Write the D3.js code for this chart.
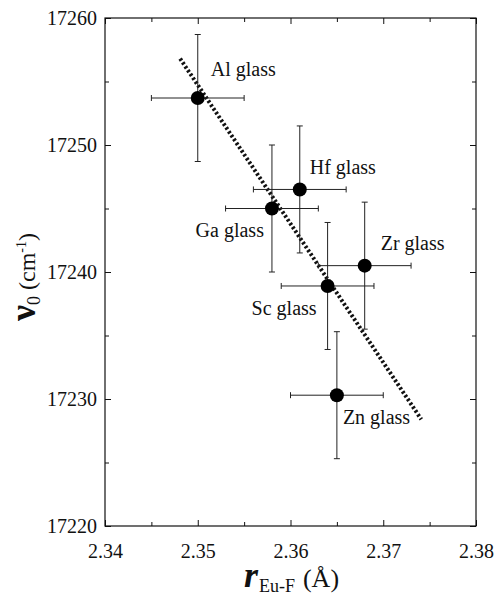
<!DOCTYPE html>
<html>
<head>
<meta charset="utf-8">
<script src="https://cdn.jsdelivr.net/npm/d3@7/dist/d3.min.js"></script>
<style>
  body { margin: 0; background: #fff; }
</style>
</head>
<body>
<div id="chart"></div>
<script>
(function() {
    "use strict";

    // values
    var glasses = ["Al glass", "Hf glass", "Ga glass", "Zr glass", "Sc glass", "Zn glass"];
    var rEuF    = [2.350, 2.361, 2.358, 2.368, 2.364, 2.365];
    var nu0     = [17253.7, 17246.5, 17245.0, 17240.5, 17238.9, 17230.3];
    var rErr    = [0.005, 0.005, 0.005, 0.005, 0.005, 0.005];
    var nuErr   = [5, 5, 5, 5, 5, 5];
    var fitX    = [2.3481, 2.3741];
    var fitY    = [17256.8, 17228.4];
    var xTicks  = [2.34, 2.35, 2.36, 2.37, 2.38];
    var yTicks  = [17220, 17230, 17240, 17250, 17260];

    // label placement relative to its point: [dx, dy, anchor]
    var labelPos = [[13, -22, "start"], [10, -15, "start"], [-8, 28, "end"],
                    [16, -16, "start"], [-11, 29, "end"], [6, 29, "start"]];

    var SERIF = "'Liberation Serif', 'Times New Roman', serif";
    var W = 496, H = 597;
    var m = { left: 105, top: 18, right: 20, bottom: 71 };
    var w = W - m.left - m.right, h = H - m.top - m.bottom;

    var svg = d3.select("#chart").append("svg")
        .attr("width", W).attr("height", H)
        .style("font-family", SERIF);
    var g = svg.append("g").attr("transform", "translate(" + m.left + "," + m.top + ")");

    var x = d3.scaleLinear().domain([2.34, 2.38]).range([0, w]);
    var y = d3.scaleLinear().domain([17220, 17260]).range([h, 0]);

    var xMinor = d3.range(2.345, 2.38, 0.01);
    var yMinor = d3.range(17225, 17260, 10);

    function styleAxis(sel) {
        sel.attr("font-family", null);
        sel.select(".domain").remove();
        sel.selectAll("line").attr("stroke", "#111").attr("stroke-width", 1);
        sel.selectAll("text").attr("fill", "#111")
            .style("font-family", SERIF).style("font-size", "20px");
    }

    // major ticks, pointing inward on all sides
    g.append("g").attr("transform", "translate(0," + h + ")")
        .call(d3.axisBottom(x).tickValues(xTicks).tickSize(-6).tickPadding(18)
            .tickFormat(d3.format(".2f")))
        .call(styleAxis);
    g.append("g")
        .call(d3.axisLeft(y).tickValues(yTicks).tickSize(-6).tickPadding(8)
            .tickFormat(d3.format("d")))
        .call(styleAxis);
    g.append("g")
        .call(d3.axisTop(x).tickValues(xTicks).tickSize(-6).tickFormat(""))
        .call(styleAxis);
    g.append("g").attr("transform", "translate(" + w + ",0)")
        .call(d3.axisRight(y).tickValues(yTicks).tickSize(-6).tickFormat(""))
        .call(styleAxis);

    // minor ticks
    g.append("g").attr("transform", "translate(0," + h + ")")
        .call(d3.axisBottom(x).tickValues(xMinor).tickSize(-4).tickFormat(""))
        .call(styleAxis);
    g.append("g")
        .call(d3.axisTop(x).tickValues(xMinor).tickSize(-4).tickFormat(""))
        .call(styleAxis);
    g.append("g")
        .call(d3.axisLeft(y).tickValues(yMinor).tickSize(-4).tickFormat(""))
        .call(styleAxis);
    g.append("g").attr("transform", "translate(" + w + ",0)")
        .call(d3.axisRight(y).tickValues(yMinor).tickSize(-4).tickFormat(""))
        .call(styleAxis);

    // frame
    g.append("rect").attr("width", w).attr("height", h)
        .attr("fill", "none").attr("stroke", "#111").attr("stroke-width", 1.2);

    // fitted dotted line
    var line = d3.line().x(function(d) { return x(d[0]); }).y(function(d) { return y(d[1]); });
    g.append("path")
        .datum(d3.zip(fitX, fitY))
        .attr("d", line)
        .attr("fill", "none")
        .attr("stroke", "#111")
        .attr("stroke-width", 4)
        .attr("stroke-dasharray", "2.4,2.2");

    var pts = glasses.map(function(name, i) {
        return { name: name, r: rEuF[i], v: nu0[i], er: rErr[i], ev: nuErr[i], lp: labelPos[i] };
    });

    var cap = 3;
    var eb = g.append("g").attr("stroke", "#222").attr("stroke-width", 1);
    pts.forEach(function(d) {
        var cx = x(d.r), cy = y(d.v);
        var y0 = y(d.v - d.ev), y1 = y(d.v + d.ev);
        var x0 = x(d.r - d.er), x1 = x(d.r + d.er);
        eb.append("line").attr("x1", cx).attr("x2", cx).attr("y1", y0).attr("y2", y1);
        eb.append("line").attr("x1", cx - cap).attr("x2", cx + cap).attr("y1", y0).attr("y2", y0);
        eb.append("line").attr("x1", cx - cap).attr("x2", cx + cap).attr("y1", y1).attr("y2", y1);
        eb.append("line").attr("x1", x0).attr("x2", x1).attr("y1", cy).attr("y2", cy);
        eb.append("line").attr("x1", x0).attr("x2", x0).attr("y1", cy - cap).attr("y2", cy + cap);
        eb.append("line").attr("x1", x1).attr("x2", x1).attr("y1", cy - cap).attr("y2", cy + cap);
    });

    g.selectAll("circle.pt").data(pts).enter().append("circle")
        .attr("class", "pt")
        .attr("cx", function(d) { return x(d.r); })
        .attr("cy", function(d) { return y(d.v); })
        .attr("r", 7)
        .attr("fill", "#000");

    g.selectAll("text.lbl").data(pts).enter().append("text")
        .attr("class", "lbl")
        .attr("x", function(d) { return x(d.r) + d.lp[0]; })
        .attr("y", function(d) { return y(d.v) + d.lp[1]; })
        .attr("text-anchor", function(d) { return d.lp[2]; })
        .attr("fill", "#111")
        .style("font-size", "20px")
        .text(function(d) { return d.name; });

    // x axis title: r_Eu-F (Å)
    var xt = svg.append("text")
        .attr("x", m.left + w / 2 + 1).attr("y", 587)
        .attr("text-anchor", "middle").attr("fill", "#111");
    xt.append("tspan").style("font-size", "36px").style("font-style", "italic")
        .style("font-weight", "bold").text("r");
    xt.append("tspan").style("font-size", "18px").attr("dy", 5).attr("dx", 1).text("Eu-F");
    xt.append("tspan").style("font-size", "26px").attr("dy", -5).attr("dx", 8).text("(Å)");

    // y axis title: ν0 (cm-1)
    var yt = svg.append("text")
        .attr("transform", "translate(35," + (m.top + h / 2 + 5) + ") rotate(-90)")
        .attr("text-anchor", "middle").attr("fill", "#111");
    yt.append("tspan").style("font-size", "36px").style("font-weight", "bold").text("ν");
    yt.append("tspan").style("font-size", "18px").attr("dy", 5).text("0");
    yt.append("tspan").style("font-size", "24px").attr("dy", -5).attr("dx", 6).text("(cm");
    yt.append("tspan").style("font-size", "14px").attr("dy", -9).text("-1");
    yt.append("tspan").style("font-size", "24px").attr("dy", 9).text(")");
}());
</script>
</body>
</html>
